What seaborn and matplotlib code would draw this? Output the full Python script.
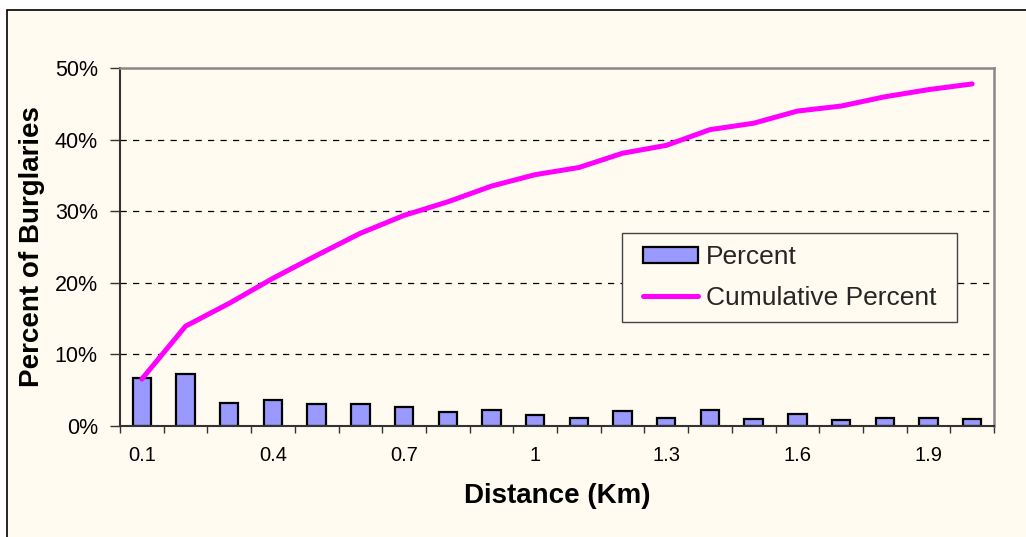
import matplotlib
matplotlib.use("Agg")
import matplotlib.pyplot as plt
from matplotlib.patches import Rectangle
from matplotlib.ticker import FixedLocator
import numpy as np
import pandas as pd
import seaborn as sns

# Distance bands (Km) and burglary shares (%)
distance_labels = ["0.1", "0.2", "0.3", "0.4", "0.5", "0.6", "0.7", "0.8", "0.9", "1",
                   "1.1", "1.2", "1.3", "1.4", "1.5", "1.6", "1.7", "1.8", "1.9", "2"]
percent = [6.6, 7.2, 3.2, 3.5, 3.0, 3.0, 2.65, 1.9, 2.1, 1.45,
           1.1, 2.0, 1.1, 2.1, 0.9, 1.6, 0.8, 1.1, 1.1, 0.85]
cumulative_percent = [6.5, 13.9, 17.1, 20.6, 23.8, 26.9, 29.4, 31.3, 33.5, 35.1,
                      36.1, 38.1, 39.2, 41.4, 42.3, 44.0, 44.7, 46.0, 47.0, 47.8]
y_ticks = [0, 10, 20, 30, 40, 50]
labelled_every = 3

CREAM = "#FFFBF0"
BAR_FILL = "#9999FF"
LINE_COLOR = "#FF00FF"

sns.set_theme(style="white")
plt.rcParams["font.family"] = ["Liberation Sans", "DejaVu Sans"]

df = pd.DataFrame({"distance": distance_labels,
                   "percent": percent,
                   "cumulative": cumulative_percent})
df["pos"] = np.arange(len(df))

W, H = 1026, 537
fig = plt.figure(figsize=(W / 100, H / 100), dpi=100, facecolor="white")

# chart-area background with its top/left frame
fig.patches.append(Rectangle((7 / W, -0.1), 1.2, 1 - 10 / H + 0.1,
                             transform=fig.transFigure, facecolor=CREAM,
                             edgecolor="black", linewidth=1.2, zorder=-10))

ax = fig.add_axes([120 / W, 1 - 425.5 / H, 874 / W, 357.3 / H])
ax.set_facecolor(CREAM)

sns.barplot(data=df, x="distance", y="percent", order=distance_labels,
            color=BAR_FILL, saturation=1, width=0.42, edgecolor="black",
            linewidth=1.6, label="Percent", ax=ax, zorder=3)
sns.lineplot(data=df, x="pos", y="cumulative", color=LINE_COLOR, linewidth=3.6,
             label="Cumulative Percent", ax=ax, zorder=4)

n = len(distance_labels)
ax.set_xlim(-0.5, n - 0.5)
ax.set_ylim(y_ticks[0], y_ticks[-1])

# category labels every third band, tick marks on band boundaries
major_pos = list(range(0, n, labelled_every))
ax.xaxis.set_major_locator(FixedLocator(major_pos))
ax.set_xticklabels([distance_labels[i] for i in major_pos])
ax.xaxis.set_minor_locator(FixedLocator(np.arange(-0.5, n, 1.0)))
ax.tick_params(axis="x", which="major", length=0, pad=15, labelsize=14.5,
               labelcolor="black")
ax.tick_params(axis="x", which="minor", bottom=True, length=5, width=1.0,
               color="#333333", direction="out")

ax.set_yticks(y_ticks)
ax.set_yticklabels([f"{v}%" for v in y_ticks])
ax.tick_params(axis="y", which="major", left=True, length=7, width=1.0,
               color="#333333", direction="out", pad=9, labelsize=15.5,
               labelcolor="black")

# dashed horizontal gridlines
for v in y_ticks[1:-1]:
    ax.axhline(v, color="black", linewidth=0.9, linestyle=(0, (5, 5)), zorder=1)

for side in ["left", "bottom"]:
    ax.spines[side].set_color("#333333")
    ax.spines[side].set_linewidth(1.5)
for side in ["top", "right"]:
    ax.spines[side].set_color("#888888")
    ax.spines[side].set_linewidth(1.8)
for s in ax.spines.values():
    s.set_visible(True)
    s.set_zorder(5)

ax.set_xlabel("Distance (Km)", fontsize=20, fontweight="bold", color="black")
ax.set_ylabel("Percent of Burglaries", fontsize=20, fontweight="bold", color="black")
ax.xaxis.set_label_coords(0.5, -0.16)
ax.yaxis.set_label_coords(-0.086, 0.5)

# legend box with wider side padding than top/bottom
ax.add_patch(Rectangle((0.5744, 0.2897), 0.3833, 0.2491, transform=ax.transAxes,
                       facecolor=CREAM, edgecolor="#444444", linewidth=1.0,
                       zorder=6))
handles, labels = ax.get_legend_handles_labels()
order = [labels.index("Percent"), labels.index("Cumulative Percent")]
leg = ax.legend([handles[i] for i in order], [labels[i] for i in order],
                loc="center left", bbox_to_anchor=(0.5984, 0.414), fontsize=19,
                frameon=False, handlelength=2.1, handleheight=0.6,
                handletextpad=0.28, labelspacing=0.62, borderpad=0,
                borderaxespad=0)
leg.set_zorder(7)

fig.savefig("out.png", dpi=100, facecolor="white")
